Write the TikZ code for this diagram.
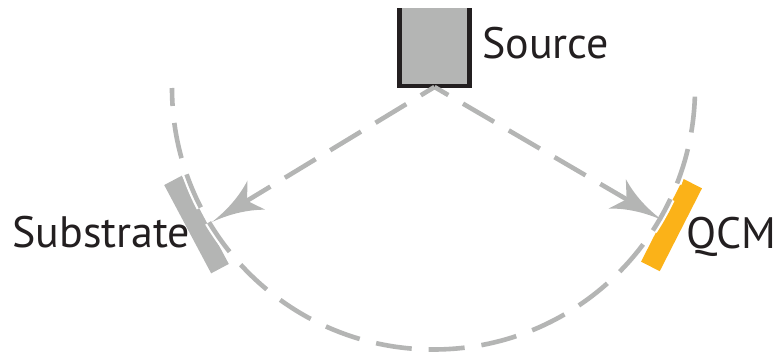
\documentclass[tikz,border=0pt]{standalone}
\usepackage{fontspec}
\setmainfont{PT Sans}
\usetikzlibrary{calc}
\definecolor{lgray}{RGB}{180,181,180}
\definecolor{qcmorange}{RGB}{251,178,24}
\definecolor{darkline}{RGB}{35,31,32}
\tikzset{
  dashcurve/.style={line width=4.6pt, lgray, dash pattern=on 36pt off 17pt},
  lbl/.style={inner sep=0pt, anchor=base west, font=\fontsize{44}{50}\selectfont, text=darkline},
  plate/.style={rectangle, inner sep=0pt, minimum width=20pt},
}
\newcommand\myhead[2]{%
  \fill[lgray] (#1)
    .. controls ($(#1)!18.11pt!6.6:(#2)$) and ($(#1)!36.67pt!11.5:(#2)$) .. ($(#1)!54.6pt!18.2:(#2)$)
    -- ($(#1)!41pt!0:(#2)$)
    -- ($(#1)!54.6pt!-18.2:(#2)$)
    .. controls ($(#1)!36.67pt!-11.5:(#2)$) and ($(#1)!18.11pt!-6.6:(#2)$) .. (#1) -- cycle;}
\begin{document}
\begin{tikzpicture}[x=1pt,y=-1pt]
\useasboundingbox (0,0) rectangle (778,356);
% source
\node[rectangle, fill=lgray, minimum width=70pt, minimum height=77.5pt, inner sep=0pt, anchor=north] (src) at (434.5,8) {};
\draw[line width=4.6pt, darkline, line join=miter] (src.north west) -- (src.south west) -- (src.south east) -- (src.north east);
\node[lbl] (srclbl) at (482,58) {Source};
% plates
\node[plate, fill=lgray, minimum height=100pt, rotate=28] (sub) at (196.5,224.5) {};
\node[plate, fill=qcmorange, minimum width=21pt, minimum height=93pt, rotate=-27] (qcm) at (671.5,225) {};
\node[lbl] (sublbl) at (12,247) {Substrate};
\node[lbl] (qcmlbl) at (686,248) {QCM};
% arc
\coordinate (c) at (433.5,88);
\draw[dashcurve, white, line width=9pt, dash phase=18pt] (c) ++(180:261.5) arc[start angle=180, end angle=0, radius=261.5];
\draw[dashcurve, dash phase=18pt] (c) ++(180:261.5) arc[start angle=180, end angle=0, radius=261.5];
% arrows
\coordinate (o) at (434.5,87);
\coordinate (subtip) at (212,222);
\coordinate (qcmtip) at (662,220);
\draw[dashcurve, dash phase=20pt, shorten >=40pt] (o) -- (subtip);
\draw[dashcurve, dash phase=20pt, shorten >=40pt] (o) -- (qcmtip);
\myhead{subtip}{o}
\myhead{qcmtip}{o}
\end{tikzpicture}
\end{document}
